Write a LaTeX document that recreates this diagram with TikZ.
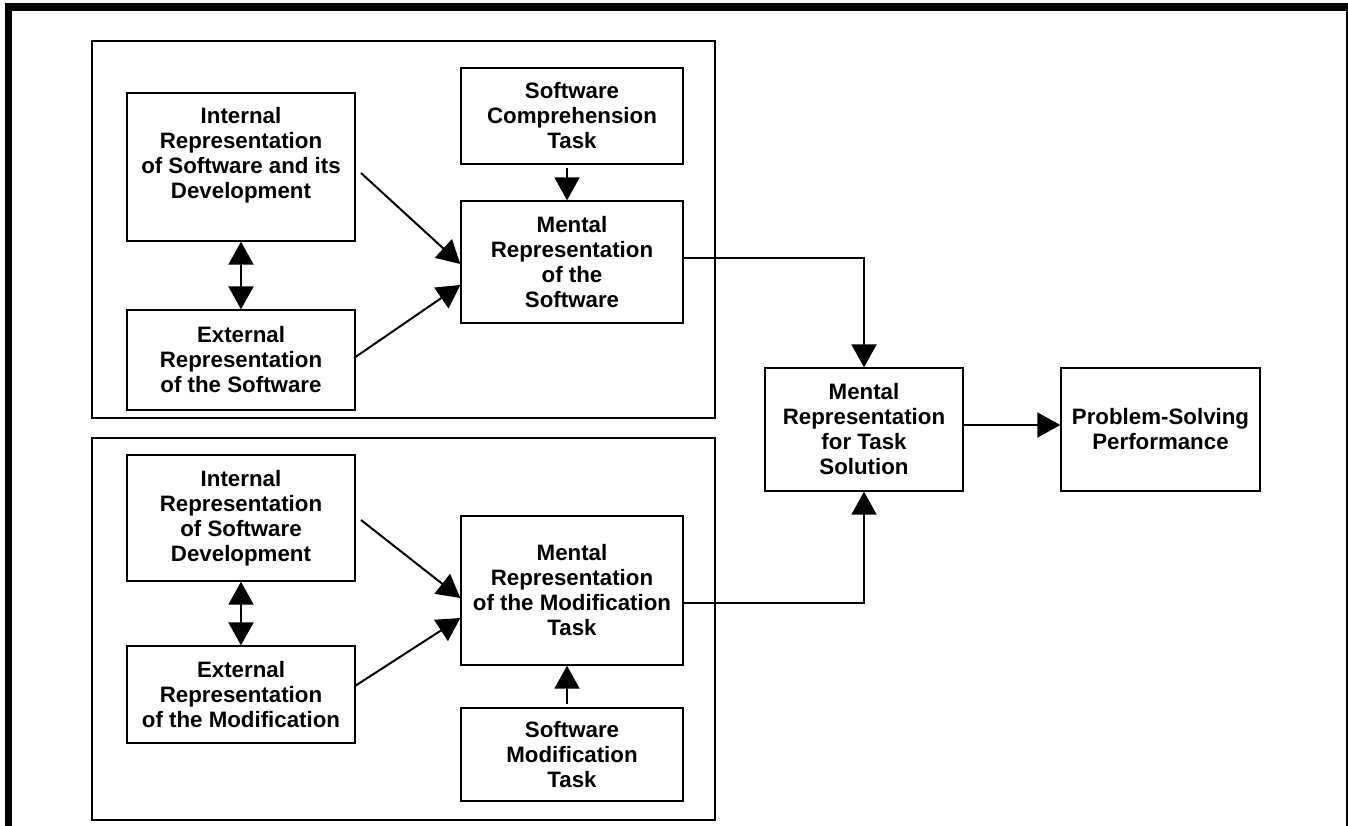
\documentclass[tikz,border=0pt]{standalone}
\usepackage{fontspec}
\setmainfont{Liberation Sans}
\usetikzlibrary{arrows.meta}
\begin{document}
\begin{tikzpicture}[x=1pt,y=-1pt,
  box/.style={draw, line width=1.4pt, align=center, inner sep=0pt,
    font=\fontsize{22.3}{25}\selectfont\bfseries},
  txt/.style={align=center, inner sep=0pt, font=\fontsize{22.3}{25}\selectfont\bfseries},
  group/.style={draw, line width=2pt},
  arr/.style={line width=2pt, -{Triangle[length=23pt,width=25pt]}},
  darr/.style={line width=2pt, {Triangle[length=23pt,width=25pt]}-{Triangle[length=23pt,width=25pt]}}]
\useasboundingbox (0,0) rectangle (1348,826);
% outer frame
\draw[line width=8pt] (5,7) -- (1348,7);
\draw[line width=7pt] (8.5,3) -- (8.5,826);
\draw[line width=3pt] (1347,3) -- (1347,826);
% group boxes
\draw[group] (92,41) rectangle (715,418);
\draw[group] (92,438) rectangle (715,820);
% nodes
\node[box, minimum width=228pt, minimum height=148pt] (int1) at (241,167) {};
\node[txt] (int1t) at ([yshift=12pt]int1.center) {Internal\\Representation\\of Software and its\\Development};
\node[box, minimum width=228pt, minimum height=100pt] (ext1) at (241,360) {External\\Representation\\of the Software};
\node[box, minimum width=222pt, minimum height=96pt] (comp) at (572,116) {Software\\Comprehension\\Task};
\node[box, minimum width=222pt, minimum height=122pt] (msw) at (572,262) {Mental\\Representation\\of the\\Software};
\node[box, minimum width=198pt, minimum height=123pt] (ts) at (864,429.5) {Mental\\Representation\\for Task\\Solution};
\node[box, minimum width=199pt, minimum height=123pt] (psp) at (1160.5,429.5) {Problem-Solving\\Performance};
\node[box, minimum width=228pt, minimum height=126pt] (int2) at (241,518) {Internal\\Representation\\of Software\\Development};
\node[box, minimum width=228pt, minimum height=97pt] (ext2) at (241,694.5) {External\\Representation\\of the Modification};
\node[box, minimum width=222pt, minimum height=149pt] (mmod) at (572,590.5) {Mental\\Representation\\of the Modification\\Task};
\node[box, minimum width=222pt, minimum height=93pt] (smod) at (572,754.5) {Software\\Modification\\Task};
% connectors
\coordinate (a1) at (361,173);
\coordinate (a2) at (354,358);
\coordinate (a3) at (361,520);
\coordinate (a4) at (355,686);
\draw[arr] (a1) -- (msw.west |- 0,264);
\draw[arr] (a2) -- (msw.west |- 0,285);
\draw[arr] (a3) -- (mmod.west |- 0,598);
\draw[arr] (a4) -- (mmod.west |- 0,618);
\draw[darr] (int1.south) -- (ext1.north);
\draw[darr] (int2.south) -- (ext2.north);
\draw[arr, shorten <=3pt] ([xshift=-5pt]comp.south) -- ([xshift=-5pt]msw.north);
\draw[arr, shorten <=3pt] ([xshift=-5pt]smod.north) -- ([xshift=-5pt]mmod.south);
\draw[arr] (msw.east |- 0,258) -| (ts.north);
\draw[arr] (mmod.east |- 0,603) -| (ts.south);
\draw[arr] (ts.east |- 0,425) -- (psp.west |- 0,425);
\end{tikzpicture}
\end{document}
